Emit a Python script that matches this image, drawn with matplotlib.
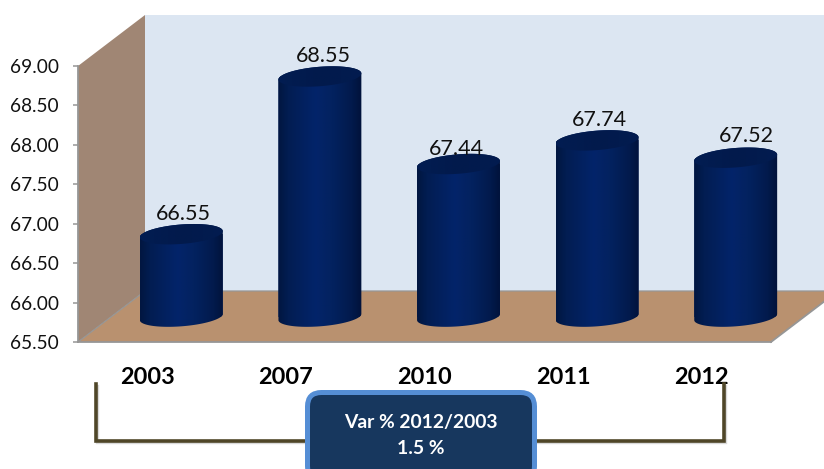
import numpy as np
import matplotlib
matplotlib.use("Agg")
import matplotlib.pyplot as plt
from matplotlib.patches import Polygon, FancyBboxPatch
from matplotlib.path import Path
from matplotlib.colors import LinearSegmentedColormap
from matplotlib.transforms import Affine2D, IdentityTransform

years = ["2003", "2007", "2010", "2011", "2012"]
values = [66.55, 68.55, 67.44, 67.74, 67.52]
y_ticks = [65.5, 66.0, 66.5, 67.0, 67.5, 68.0, 68.5, 69.0]
callout_lines = ["Var % 2012/2003", "1.5 %"]

W, H = 824, 469
plt.rcParams["font.family"] = ["Lato", "DejaVu Sans"]
fig = plt.figure(figsize=(W / 100, H / 100), dpi=100)
L, R, T, B = 78, 771, 66, 342
ax = fig.add_axes([L / W, 1 - B / H, (R - L) / W, (B - T) / H])
ax.set_xlim(-0.5, 4.5)
ax.set_ylim(65.5, 69.0)
ax.set_autoscale_on(False)
ax.patch.set_visible(False)

GRAY = "#969696"
DX, DY = 67 / (R - L), 51 / (B - T)
ax.add_patch(Polygon([(DX, DY), (DX + 1, DY), (DX + 1, DY + 1), (DX, DY + 1)], transform=ax.transAxes,
                     fc="#dce6f2", ec="none", clip_on=False, zorder=0))
ax.add_patch(Polygon([(0, 0), (DX, DY), (DX, DY + 1), (0, 1)], transform=ax.transAxes,
                     fc="#a08674", ec="none", clip_on=False, zorder=1))
ax.add_patch(Polygon([(0, 0), (1, 0), (1 + DX, DY), (DX, DY)], transform=ax.transAxes,
                     fc="#b9916f", ec="none", clip_on=False, zorder=1))
ax.plot([0, DX, DX + 1], [0, DY, DY], transform=ax.transAxes, color=GRAY, lw=0.9, clip_on=False, zorder=2)
ax.plot([1, 1 + DX], [0, DY], transform=ax.transAxes, color=GRAY, lw=1.3, clip_on=False, zorder=2)

for s in ("top", "right"):
    ax.spines[s].set_visible(False)
for s in ("left", "bottom"):
    ax.spines[s].set_color(GRAY)
    ax.spines[s].set_linewidth(1.3)
    ax.spines[s].set_zorder(2)

ax.set_yticks(y_ticks)
ax.set_yticklabels([f"{v:.2f}" for v in y_ticks], fontsize=13.7, color="#111111")
ax.tick_params(axis="y", length=3.6, width=1.1, color=GRAY, pad=10)
ax.set_xticks(range(len(years)))
ax.set_xticklabels(years, fontsize=16.9, fontweight="bold", color="black")
ax.tick_params(axis="x", length=0, pad=18)

off = Affine2D().translate(34, 25)
bar_tr = ax.transData + off
bars = ax.bar(range(len(years)), np.array(values) - 65.5, bottom=65.5, width=0.6,
              color="#03215f", linewidth=0, transform=bar_tr, zorder=3)

body_cmap = LinearSegmentedColormap.from_list("body", [
    (0, "#011640"), (0.12, "#021d52"), (0.45, "#03246a"), (0.65, "#03225f"), (0.88, "#021a4c"), (1, "#01123a")])
top_cmap = LinearSegmentedColormap.from_list("top", [
    (0, "#021d52"), (0.5, "#021a4c"), (1, "#021c50")])
grad = np.linspace(0, 1, 256).reshape(1, -1)


def ell(cx, cy, a, b, th, t):
    return np.c_[cx + a * np.cos(t) * np.cos(th) - b * np.sin(t) * np.sin(th),
                 cy + a * np.cos(t) * np.sin(th) + b * np.sin(t) * np.cos(th)]


ident = IdentityTransform()
label_dx = [0, 1, -4, 0, 9]
label_dy = [0, 0, -5, 0, 1]
for rect, v, ldx, ldy in zip(bars, values, label_dx, label_dy):
    x0 = rect.get_x()
    xc = x0 + rect.get_width() / 2
    (cxb, cyb) = bar_tr.transform((xc, 65.5))
    (cxt, cyt) = bar_tr.transform((xc, v))
    xl = bar_tr.transform((x0, v))[0]
    a = cxt - xl
    th = np.radians(4.5)
    lower = ell(cxb, cyb, a, 9.3, th, np.linspace(np.pi, 2 * np.pi, 60))
    upper = ell(cxt, cyt, a, 9.7, th, np.linspace(0, np.pi, 60))
    pts = np.vstack([lower, upper, lower[:1]])
    clip = Path(pts, closed=True)
    rect.set_clip_box(fig.bbox)
    rect.set_clip_path(clip, ident)
    im = ax.imshow(grad, cmap=body_cmap, aspect="auto", transform=ident,
                   extent=(xl, cxt + a, cyb - 12, cyt + 12), zorder=4, interpolation="bilinear")
    im.set_clip_box(fig.bbox)
    im.set_clip_path(clip, ident)
    top_pts = ell(cxt, cyt, a, 9.7, th, np.linspace(0, 2 * np.pi, 120))
    tp = Polygon(top_pts, closed=True, transform=ident, fc="none", ec="none", zorder=5, clip_on=False)
    ax.add_patch(tp)
    imt = ax.imshow(grad, cmap=top_cmap, aspect="auto", transform=ident,
                    extent=(xl, cxt + a, cyt - 12, cyt + 12), zorder=5, interpolation="bilinear")
    imt.set_clip_box(fig.bbox)
    imt.set_clip_path(tp)
    ax.annotate(f"{v:.2f}", xy=(cxt + 2 + ldx, cyt + 14.5 + ldy), xycoords=ident, ha="center", va="baseline",
                fontsize=15.5, color="#111111", zorder=6, annotation_clip=False)

ax.set_xlim(-0.5, 4.5)
ax.set_ylim(65.5, 69.0)


def P(x, y):
    return x / W, 1 - y / H


bx = [96, 96, 724, 724]
by = [384, 440.5, 440.5, 384]
fx, fy = zip(*[P(a, b) for a, b in zip(bx, by)])
fig.add_artist(plt.Line2D(np.array(fx) + 0.8 / W, np.array(fy) - 1.5 / H, color="#d9d9d9", lw=2.4,
                          solid_joinstyle="miter", zorder=9))
fig.add_artist(plt.Line2D(fx, fy, color="#4f4628", lw=2.6, solid_joinstyle="miter", zorder=10))

box = FancyBboxPatch((307.5, H - 480), 227, 87.5, boxstyle="round,pad=0,rounding_size=14",
                     transform=ident, fc="#17375e", ec="#558ed5", lw=3.6, zorder=11)
fig.add_artist(box)
for line, yy in zip(callout_lines, (422, 448)):
    fx0, fy0 = P(421, yy)
    fig.text(fx0, fy0, line, color="white", fontsize=13.9, fontweight="bold",
             ha="center", va="center", zorder=12)

fig.savefig("out.png", dpi=100)
